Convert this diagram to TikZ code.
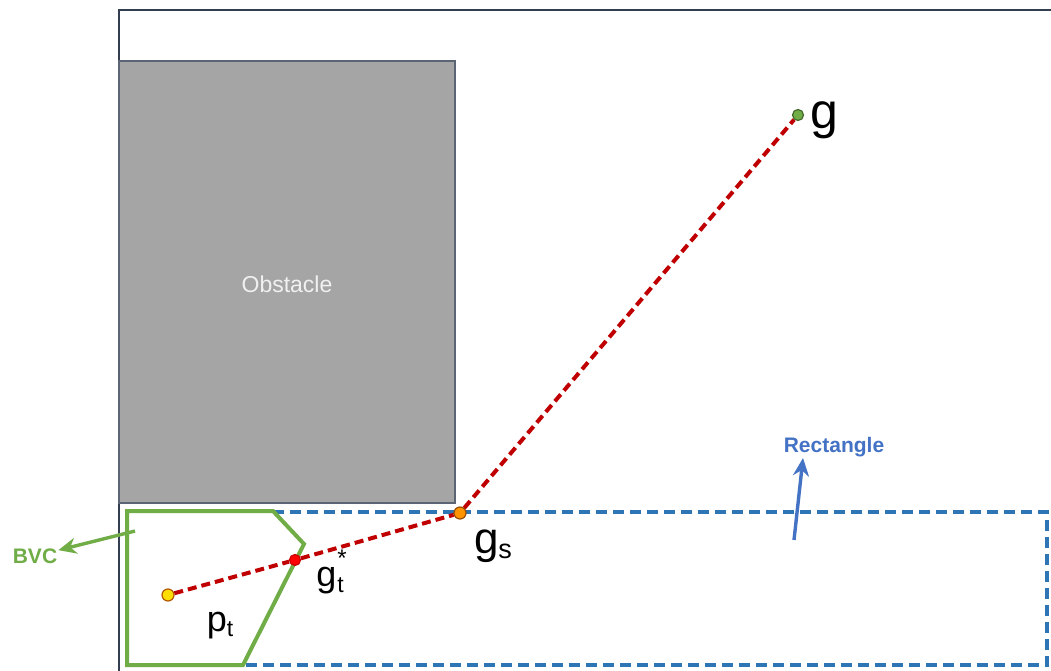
\documentclass[tikz,border=0pt]{standalone}
\usepackage{fontspec}
\setmainfont{Liberation Sans}
\usetikzlibrary{arrows.meta, positioning}

\definecolor{bvcgreen}{HTML}{70AD47}
\definecolor{rectblue}{HTML}{2E75B6}
\definecolor{notblue}{HTML}{4472C4}
\definecolor{pathred}{HTML}{C00000}
\definecolor{obsgray}{HTML}{A5A5A5}
\definecolor{framegray}{HTML}{333F50}

\begin{document}
\begin{tikzpicture}[x=1pt, y=-1pt,
    pt/.style={circle, draw, line width=1.2pt, inner sep=0pt, minimum size=12pt},
    lbl/.style={inner sep=1pt, font=\fontsize{36}{38}\selectfont},
    note/.style={font=\bfseries\fontsize{21}{24}\selectfont, inner sep=1pt},
    pointer/.style={line width=3.4pt, -{Stealth[length=18pt, width=16pt]}},
    route/.style={pathred, line width=4pt, dash pattern=on 9pt off 5pt},
    bvc/.style={bvcgreen, line width=4pt, line join=miter}]
  \useasboundingbox (0,0) rectangle (1051,671);
  \fill[white] (0,0) rectangle (1051,671);
  % frame of the map
  \draw[framegray, line width=2.2pt] (119,675) -- (119,10) -- (1055,10);
  % obstacle
  \draw[framegray!80, line width=1.6pt, fill=obsgray] (119,61) rectangle (455,503);
  \node[text=white!94!black, font=\fontsize{23}{25}\selectfont] (obs) at (287,284) {Obstacle};
  % rectangle and BVC
  \draw[rectblue, line width=4pt, dash pattern=on 11pt off 6pt] (127,512) rectangle (1047,665);
  \draw[bvc, fill=white] (127,511) -- (273,511) -- (304,544) -- (243,665) -- (127,665) -- cycle;
  % points
  \node[pt, fill=yellow!80!orange, draw=orange!70!black] (p) at (168,595) {};
  \node[pt, fill=red, draw=red!80!black, minimum size=11pt] (gt) at (295,560) {};
  \node[pt, fill=orange!85!yellow, draw=orange!60!black] (gs) at (460,513) {};
  \node[pt, fill=bvcgreen, draw=bvcgreen!60!black, minimum size=11pt] (g) at (798,115) {};
  \draw[route] (p) -- (gt);
  \draw[route] (gt) -- (gs);
  \draw[route] (gs) -- (g);
  % labels
  \node[lbl, font=\fontsize{50}{52}\selectfont, right=5pt of g, yshift=-5pt] (glbl) {g};
  \node[lbl, font=\fontsize{44}{46}\selectfont] (gslbl) at (493,546) {g\raisebox{-0.12em}{\fontsize{27}{27}\selectfont s}};
  \node[lbl] (gtlbl) at (330,572) {g\kern1pt\rlap{\raisebox{0.58em}{\fontsize{24}{24}\selectfont *}}\raisebox{-0.16em}{\fontsize{23}{23}\selectfont t}};
  \node[lbl] (plbl) at (220,626) {p\raisebox{-0.12em}{\fontsize{23}{23}\selectfont t}};
  \node[note, text=bvcgreen] (bvclbl) at (35,556) {BVC};
  \node[note, text=notblue] (rectlbl) at (834,447) {Rectangle};
  \coordinate (bvcfrom) at (135,531);
  \coordinate (rectfrom) at (794,540);
  \draw[pointer, bvcgreen] (bvcfrom) -- (bvclbl);
  \draw[pointer, notblue] (rectfrom) -- (rectlbl.south west -| 803,0);
\end{tikzpicture}
\end{document}
